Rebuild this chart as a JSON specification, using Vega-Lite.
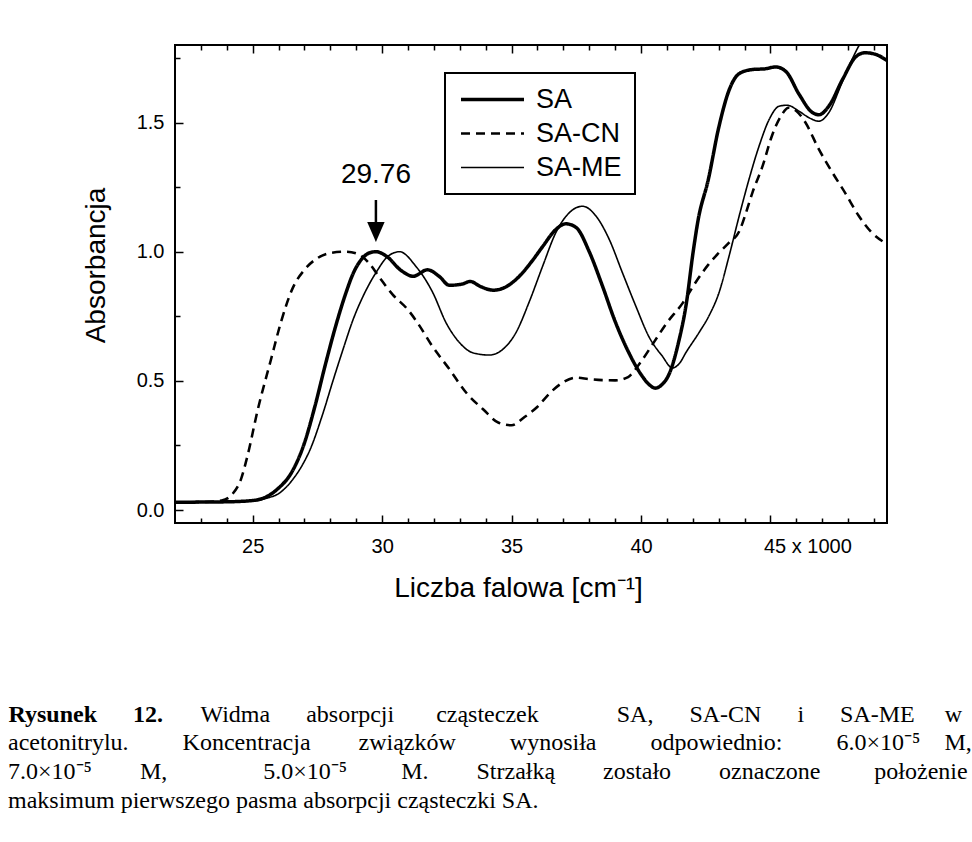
{
  "$schema": "https://vega.github.io/schema/vega-lite/v6.json",
  "width": 712,
  "height": 478,
  "autosize": {"type": "none"},
  "padding": {"left": 175, "top": 45, "right": 85, "bottom": 319},
  "background": "white",
  "config": {
    "view": {"stroke": "black", "strokeWidth": 2},
    "font": "Liberation Sans",
    "axis": {"grid": false, "domain": false, "labelColor": "black", "titleColor": "black", "labelFont": "Liberation Sans", "titleFont": "Liberation Sans", "titleFontWeight": "normal"},
    "legend": {"labelFont": "Liberation Sans", "labelColor": "black", "strokeColor": "black", "strokeWidth": 2, "fillColor": "white"}
  },
  "title": {
    "text": [
      "acetonitrylu.\u00a0\u00a0\u00a0\u00a0\u00a0\u00a0\u00a0\u00a0\u00a0Koncentracja\u00a0\u00a0\u00a0\u00a0\u00a0\u00a0\u00a0\u00a0związków\u00a0\u00a0\u00a0\u00a0\u00a0\u00a0\u00a0\u00a0\u00a0wynosiła\u00a0\u00a0\u00a0\u00a0\u00a0\u00a0\u00a0\u00a0\u00a0odpowiednio:\u00a0\u00a0\u00a0\u00a0\u00a0\u00a0\u00a0\u00a0\u00a06.0×10⁻⁵\u00a0\u00a0\u00a0\u00a0M,",
      "7.0×10⁻⁵\u00a0\u00a0\u00a0\u00a0\u00a0\u00a0\u00a0\u00a0M,\u00a0\u00a0\u00a0\u00a0\u00a0\u00a0\u00a0\u00a0\u00a0\u00a0\u00a0\u00a0\u00a0\u00a0\u00a0\u00a05.0×10⁻⁵\u00a0\u00a0\u00a0\u00a0\u00a0\u00a0\u00a0\u00a0\u00a0M.\u00a0\u00a0\u00a0\u00a0\u00a0\u00a0\u00a0\u00a0Strzałką\u00a0\u00a0\u00a0\u00a0\u00a0\u00a0\u00a0\u00a0zostało\u00a0\u00a0\u00a0\u00a0\u00a0\u00a0\u00a0\u00a0oznaczone\u00a0\u00a0\u00a0\u00a0\u00a0\u00a0\u00a0\u00a0\u00a0położenie",
      "maksimum pierwszego pasma absorpcji cząsteczki SA."
    ],
    "orient": "bottom",
    "anchor": "start",
    "frame": "group",
    "dx": -167,
    "offset": 5,
    "font": "Liberation Serif",
    "fontSize": 24,
    "fontWeight": "normal",
    "color": "black",
    "lineHeight": 29
  },
  "datasets": {
    "spectra": [
      {"series": "SA", "nu": 22.0, "A": 0.030}, {"series": "SA", "nu": 23.0, "A": 0.031}, {"series": "SA", "nu": 24.0, "A": 0.032}, {"series": "SA", "nu": 25.0, "A": 0.037}, {"series": "SA", "nu": 25.5, "A": 0.05}, {"series": "SA", "nu": 26.0, "A": 0.085}, {"series": "SA", "nu": 26.5, "A": 0.145}, {"series": "SA", "nu": 27.0, "A": 0.26}, {"series": "SA", "nu": 27.4, "A": 0.40}, {"series": "SA", "nu": 27.8, "A": 0.56}, {"series": "SA", "nu": 28.2, "A": 0.71}, {"series": "SA", "nu": 28.6, "A": 0.84}, {"series": "SA", "nu": 28.9, "A": 0.92}, {"series": "SA", "nu": 29.2, "A": 0.97}, {"series": "SA", "nu": 29.5, "A": 0.995}, {"series": "SA", "nu": 29.76, "A": 1.0}, {"series": "SA", "nu": 30.2, "A": 0.98}, {"series": "SA", "nu": 30.7, "A": 0.93}, {"series": "SA", "nu": 31.2, "A": 0.905}, {"series": "SA", "nu": 31.75, "A": 0.93}, {"series": "SA", "nu": 32.2, "A": 0.905}, {"series": "SA", "nu": 32.6, "A": 0.87}, {"series": "SA", "nu": 33.1, "A": 0.875}, {"series": "SA", "nu": 33.4, "A": 0.885}, {"series": "SA", "nu": 33.8, "A": 0.865}, {"series": "SA", "nu": 34.3, "A": 0.851}, {"series": "SA", "nu": 34.8, "A": 0.865}, {"series": "SA", "nu": 35.3, "A": 0.905}, {"series": "SA", "nu": 35.8, "A": 0.965}, {"series": "SA", "nu": 36.2, "A": 1.02}, {"series": "SA", "nu": 36.7, "A": 1.085}, {"series": "SA", "nu": 37.1, "A": 1.108}, {"series": "SA", "nu": 37.5, "A": 1.093}, {"series": "SA", "nu": 38.0, "A": 1.0}, {"series": "SA", "nu": 38.5, "A": 0.87}, {"series": "SA", "nu": 39.0, "A": 0.73}, {"series": "SA", "nu": 39.5, "A": 0.615}, {"series": "SA", "nu": 40.0, "A": 0.525}, {"series": "SA", "nu": 40.3, "A": 0.487}, {"series": "SA", "nu": 40.55, "A": 0.472}, {"series": "SA", "nu": 40.8, "A": 0.485}, {"series": "SA", "nu": 41.1, "A": 0.53}, {"series": "SA", "nu": 41.45, "A": 0.65}, {"series": "SA", "nu": 41.75, "A": 0.8}, {"series": "SA", "nu": 42.0, "A": 0.99}, {"series": "SA", "nu": 42.2, "A": 1.12}, {"series": "SA", "nu": 42.6, "A": 1.28}, {"series": "SA", "nu": 43.0, "A": 1.48}, {"series": "SA", "nu": 43.4, "A": 1.625}, {"series": "SA", "nu": 43.8, "A": 1.69}, {"series": "SA", "nu": 44.3, "A": 1.705}, {"series": "SA", "nu": 44.8, "A": 1.708}, {"series": "SA", "nu": 45.2, "A": 1.715}, {"series": "SA", "nu": 45.6, "A": 1.697}, {"series": "SA", "nu": 46.1, "A": 1.61}, {"series": "SA", "nu": 46.6, "A": 1.54}, {"series": "SA", "nu": 46.87, "A": 1.53}, {"series": "SA", "nu": 47.25, "A": 1.563}, {"series": "SA", "nu": 47.8, "A": 1.67}, {"series": "SA", "nu": 48.3, "A": 1.755}, {"series": "SA", "nu": 48.65, "A": 1.77}, {"series": "SA", "nu": 49.05, "A": 1.764}, {"series": "SA", "nu": 49.5, "A": 1.74},
      {"series": "SA-CN", "nu": 22.0, "A": 0.03}, {"series": "SA-CN", "nu": 23.0, "A": 0.031}, {"series": "SA-CN", "nu": 23.8, "A": 0.037}, {"series": "SA-CN", "nu": 24.2, "A": 0.06}, {"series": "SA-CN", "nu": 24.55, "A": 0.12}, {"series": "SA-CN", "nu": 24.8, "A": 0.21}, {"series": "SA-CN", "nu": 25.2, "A": 0.39}, {"series": "SA-CN", "nu": 25.7, "A": 0.58}, {"series": "SA-CN", "nu": 26.1, "A": 0.73}, {"series": "SA-CN", "nu": 26.55, "A": 0.86}, {"series": "SA-CN", "nu": 27.0, "A": 0.93}, {"series": "SA-CN", "nu": 27.5, "A": 0.975}, {"series": "SA-CN", "nu": 28.0, "A": 0.995}, {"series": "SA-CN", "nu": 28.6, "A": 1.0}, {"series": "SA-CN", "nu": 29.1, "A": 0.99}, {"series": "SA-CN", "nu": 29.5, "A": 0.955}, {"series": "SA-CN", "nu": 29.9, "A": 0.9}, {"series": "SA-CN", "nu": 30.4, "A": 0.835}, {"series": "SA-CN", "nu": 31.0, "A": 0.775}, {"series": "SA-CN", "nu": 31.4, "A": 0.72}, {"series": "SA-CN", "nu": 31.9, "A": 0.64}, {"series": "SA-CN", "nu": 32.6, "A": 0.545}, {"series": "SA-CN", "nu": 33.25, "A": 0.454}, {"series": "SA-CN", "nu": 33.9, "A": 0.39}, {"series": "SA-CN", "nu": 34.5, "A": 0.338}, {"series": "SA-CN", "nu": 35.0, "A": 0.328}, {"series": "SA-CN", "nu": 35.5, "A": 0.36}, {"series": "SA-CN", "nu": 36.0, "A": 0.4}, {"series": "SA-CN", "nu": 36.5, "A": 0.455}, {"series": "SA-CN", "nu": 37.0, "A": 0.495}, {"series": "SA-CN", "nu": 37.5, "A": 0.513}, {"series": "SA-CN", "nu": 38.0, "A": 0.507}, {"series": "SA-CN", "nu": 38.5, "A": 0.503}, {"series": "SA-CN", "nu": 39.0, "A": 0.502}, {"series": "SA-CN", "nu": 39.5, "A": 0.515}, {"series": "SA-CN", "nu": 40.0, "A": 0.575}, {"series": "SA-CN", "nu": 40.5, "A": 0.65}, {"series": "SA-CN", "nu": 41.0, "A": 0.725}, {"series": "SA-CN", "nu": 41.6, "A": 0.8}, {"series": "SA-CN", "nu": 42.1, "A": 0.88}, {"series": "SA-CN", "nu": 42.6, "A": 0.95}, {"series": "SA-CN", "nu": 43.0, "A": 0.995}, {"series": "SA-CN", "nu": 43.4, "A": 1.035}, {"series": "SA-CN", "nu": 43.8, "A": 1.08}, {"series": "SA-CN", "nu": 44.05, "A": 1.15}, {"series": "SA-CN", "nu": 44.3, "A": 1.228}, {"series": "SA-CN", "nu": 44.7, "A": 1.333}, {"series": "SA-CN", "nu": 45.05, "A": 1.447}, {"series": "SA-CN", "nu": 45.4, "A": 1.524}, {"series": "SA-CN", "nu": 45.7, "A": 1.557}, {"series": "SA-CN", "nu": 46.0, "A": 1.545}, {"series": "SA-CN", "nu": 46.35, "A": 1.5}, {"series": "SA-CN", "nu": 46.85, "A": 1.4}, {"series": "SA-CN", "nu": 47.4, "A": 1.305}, {"series": "SA-CN", "nu": 47.9, "A": 1.225}, {"series": "SA-CN", "nu": 48.4, "A": 1.14}, {"series": "SA-CN", "nu": 48.9, "A": 1.075}, {"series": "SA-CN", "nu": 49.5, "A": 1.03},
      {"series": "SA-ME", "nu": 22.0, "A": 0.03}, {"series": "SA-ME", "nu": 23.0, "A": 0.031}, {"series": "SA-ME", "nu": 24.0, "A": 0.032}, {"series": "SA-ME", "nu": 25.0, "A": 0.035}, {"series": "SA-ME", "nu": 25.5, "A": 0.045}, {"series": "SA-ME", "nu": 26.05, "A": 0.067}, {"series": "SA-ME", "nu": 26.56, "A": 0.12}, {"series": "SA-ME", "nu": 26.95, "A": 0.18}, {"series": "SA-ME", "nu": 27.2, "A": 0.23}, {"series": "SA-ME", "nu": 27.7, "A": 0.37}, {"series": "SA-ME", "nu": 28.1, "A": 0.5}, {"series": "SA-ME", "nu": 28.5, "A": 0.625}, {"series": "SA-ME", "nu": 28.87, "A": 0.735}, {"series": "SA-ME", "nu": 29.3, "A": 0.835}, {"series": "SA-ME", "nu": 29.8, "A": 0.925}, {"series": "SA-ME", "nu": 30.2, "A": 0.98}, {"series": "SA-ME", "nu": 30.67, "A": 1.0}, {"series": "SA-ME", "nu": 31.3, "A": 0.944}, {"series": "SA-ME", "nu": 31.96, "A": 0.841}, {"series": "SA-ME", "nu": 32.47, "A": 0.725}, {"series": "SA-ME", "nu": 32.99, "A": 0.648}, {"series": "SA-ME", "nu": 33.5, "A": 0.609}, {"series": "SA-ME", "nu": 34.14, "A": 0.6}, {"series": "SA-ME", "nu": 34.66, "A": 0.622}, {"series": "SA-ME", "nu": 35.17, "A": 0.687}, {"series": "SA-ME", "nu": 35.69, "A": 0.808}, {"series": "SA-ME", "nu": 36.2, "A": 0.944}, {"series": "SA-ME", "nu": 36.71, "A": 1.074}, {"series": "SA-ME", "nu": 37.23, "A": 1.151}, {"series": "SA-ME", "nu": 37.74, "A": 1.176}, {"series": "SA-ME", "nu": 38.26, "A": 1.138}, {"series": "SA-ME", "nu": 38.77, "A": 1.048}, {"series": "SA-ME", "nu": 39.28, "A": 0.919}, {"series": "SA-ME", "nu": 39.8, "A": 0.789}, {"series": "SA-ME", "nu": 40.31, "A": 0.67}, {"series": "SA-ME", "nu": 40.82, "A": 0.596}, {"series": "SA-ME", "nu": 41.21, "A": 0.55}, {"series": "SA-ME", "nu": 41.5, "A": 0.57}, {"series": "SA-ME", "nu": 41.73, "A": 0.609}, {"series": "SA-ME", "nu": 42.24, "A": 0.687}, {"series": "SA-ME", "nu": 42.62, "A": 0.751}, {"series": "SA-ME", "nu": 43.01, "A": 0.841}, {"series": "SA-ME", "nu": 43.4, "A": 0.983}, {"series": "SA-ME", "nu": 43.79, "A": 1.138}, {"series": "SA-ME", "nu": 44.17, "A": 1.28}, {"series": "SA-ME", "nu": 44.56, "A": 1.409}, {"series": "SA-ME", "nu": 44.95, "A": 1.512}, {"series": "SA-ME", "nu": 45.33, "A": 1.563}, {"series": "SA-ME", "nu": 45.64, "A": 1.567}, {"series": "SA-ME", "nu": 46.1, "A": 1.544}, {"series": "SA-ME", "nu": 46.48, "A": 1.519}, {"series": "SA-ME", "nu": 46.87, "A": 1.505}, {"series": "SA-ME", "nu": 47.25, "A": 1.538}, {"series": "SA-ME", "nu": 47.76, "A": 1.654}, {"series": "SA-ME", "nu": 48.15, "A": 1.744}, {"series": "SA-ME", "nu": 48.5, "A": 1.81}, {"series": "SA-ME", "nu": 48.9, "A": 1.84}, {"series": "SA-ME", "nu": 49.5, "A": 1.83}
    ],
    "annotation": [
      {"nu": 29.76, "label": "29.76", "A_text": 1.264, "A_shaft_top": 1.2, "A_shaft_bottom": 1.1, "A_head": 1.076}
    ]
  },
  "resolve": {"axis": {"x": "independent", "y": "independent"}},
  "layer": [
    {
      "data": {"name": "spectra"},
      "transform": [{"filter": "datum.series !== 'SA'"}],
      "mark": {"type": "line", "color": "black", "clip": true, "interpolate": "monotone"},
      "encoding": {
        "x": {
          "field": "nu", "type": "quantitative",
          "scale": {"domain": [22, 49.5], "nice": false, "zero": false},
          "axis": {
            "orient": "bottom", "values": [25, 30, 35, 40, 45], "ticks": true, "tickSize": -8, "tickColor": "black", "tickWidth": 1.5, "tickOpacity": 1, "zindex": 1,
            "labelFontSize": 20, "labelPadding": 21,
            "labelExpr": "datum.value == 45 ? '45 x 1000' : datum.label",
            "labelAlign": {"condition": {"test": "datum.value == 45", "value": "left"}, "value": "center"},
            "labelOffset": {"condition": {"test": "datum.value == 45", "value": -7}, "value": 0},
            "title": "Liczba falowa [cm⁻¹]", "titleFontSize": 28,
            "titleX": 343, "titleY": 73, "titleBaseline": "alphabetic", "titleAlign": "center"
          }
        },
        "y": {
          "field": "A", "type": "quantitative",
          "scale": {"domain": [-0.05, 1.8], "nice": false, "zero": false},
          "axis": {
            "orient": "left", "values": [0, 0.5, 1, 1.5], "ticks": true, "tickSize": -8, "tickColor": "black", "tickWidth": 1.5, "tickOpacity": 1, "zindex": 1, "format": ".1f",
            "labelFontSize": 20, "labelPadding": 19,
            "title": "Absorbancja", "titleFontSize": 28,
            "titleX": -71, "titleY": 220, "titleAngle": 270, "titleBaseline": "alphabetic", "titleAlign": "center"
          }
        },
        "strokeDash": {
          "field": "series", "type": "nominal",
          "scale": {"domain": ["SA", "SA-CN", "SA-ME"], "range": [[1, 0], [9, 6], [1, 0]]},
          "legend": {
            "orient": "none", "legendX": 270, "legendY": 28, "title": null,
            "labelFontSize": 27, "labelOffset": 51, "symbolType": "M-1,0L5,0", "symbolSize": 441,
            "symbolStrokeColor": "black", "symbolFillColor": "transparent", "rowPadding": 6, "padding": 13
          }
        },
        "strokeWidth": {
          "field": "series", "type": "nominal",
          "scale": {"domain": ["SA", "SA-CN", "SA-ME"], "range": [3.5, 1.6, 1.1]},
          "legend": {
            "orient": "none", "legendX": 270, "legendY": 28, "title": null,
            "labelFontSize": 27, "labelOffset": 51, "symbolType": "M-1,0L5,0", "symbolSize": 441,
            "symbolStrokeColor": "black", "symbolFillColor": "transparent", "rowPadding": 6, "padding": 13
          }
        }
      }
    },
    {
      "data": {"name": "spectra"},
      "transform": [{"filter": "datum.series === 'SA'"}],
      "mark": {"type": "line", "color": "black", "clip": true, "interpolate": "monotone"},
      "encoding": {
        "x": {
          "field": "nu", "type": "quantitative",
          "axis": {
            "orient": "top", "values": [23, 24, 26, 27, 28, 29, 31, 32, 33, 34, 36, 37, 38, 39, 41, 42, 43, 44, 46, 47, 48, 49],
            "labels": false, "title": null, "ticks": true, "tickSize": -5, "tickColor": "black", "tickWidth": 1.5, "tickOpacity": 1, "zindex": 1
          }
        },
        "y": {"field": "A", "type": "quantitative", "axis": null},
        "strokeDash": {
          "field": "series", "type": "nominal",
          "legend": {
            "orient": "none", "legendX": 270, "legendY": 28, "title": null,
            "labelFontSize": 27, "labelOffset": 51, "symbolType": "M-1,0L5,0", "symbolSize": 441,
            "symbolStrokeColor": "black", "symbolFillColor": "transparent", "rowPadding": 6, "padding": 13
          }
        },
        "strokeWidth": {
          "field": "series", "type": "nominal",
          "legend": {
            "orient": "none", "legendX": 270, "legendY": 28, "title": null,
            "labelFontSize": 27, "labelOffset": 51, "symbolType": "M-1,0L5,0", "symbolSize": 441,
            "symbolStrokeColor": "black", "symbolFillColor": "transparent", "rowPadding": 6, "padding": 13
          }
        }
      }
    },
    {
      "data": {"name": "annotation"},
      "mark": {"type": "rule", "color": "black", "strokeWidth": 2.5},
      "encoding": {
        "x": {
          "field": "nu", "type": "quantitative",
          "axis": {"orient": "top", "values": [25, 30, 35, 40, 45], "labels": false, "title": null, "ticks": true, "tickSize": -8, "tickColor": "black", "tickWidth": 1.5, "tickOpacity": 1, "zindex": 1}
        },
        "y": {"field": "A_shaft_top", "type": "quantitative", "axis": null},
        "y2": {"field": "A_shaft_bottom"}
      }
    },
    {
      "data": {"name": "annotation"},
      "mark": {"type": "point", "filled": true, "color": "black", "opacity": 1, "strokeWidth": 0, "shape": "M-0.87,-1L0.87,-1L0,1Z", "size": 400},
      "encoding": {
        "x": {
          "field": "nu", "type": "quantitative",
          "axis": {
            "orient": "bottom", "values": [23, 24, 26, 27, 28, 29, 31, 32, 33, 34, 36, 37, 38, 39, 41, 42, 43, 44, 46, 47, 48, 49],
            "labels": false, "title": null, "ticks": true, "tickSize": -5, "tickColor": "black", "tickWidth": 1.5, "tickOpacity": 1, "zindex": 1
          }
        },
        "y": {
          "field": "A_head", "type": "quantitative",
          "axis": {"orient": "left", "values": [0.25, 0.75, 1.25, 1.75], "labels": false, "title": null, "ticks": true, "tickSize": -5, "tickColor": "black", "tickWidth": 1.5, "tickOpacity": 1, "zindex": 1}
        }
      }
    },
    {
      "data": {"name": "annotation"},
      "mark": {"type": "text", "color": "black", "font": "Liberation Sans", "fontSize": 28, "baseline": "alphabetic", "align": "center"},
      "encoding": {
        "x": {
          "field": "nu", "type": "quantitative",
          "axis": {
            "orient": "bottom", "values": [25], "ticks": false, "labels": false, "domain": false,
            "title": "Rysunek\u00a0\u00a0\u00a0\u00a0\u00a0\u00a012.", "titleFont": "Liberation Serif", "titleFontSize": 24, "titleFontWeight": "bold", "titleColor": "black",
            "titleX": -167, "titleY": 198, "titleAlign": "left", "titleBaseline": "alphabetic"
          }
        },
        "y": {
          "field": "A_text", "type": "quantitative",
          "axis": {
            "orient": "left", "values": [0], "ticks": false, "labels": false, "domain": false,
            "title": "Widma\u00a0\u00a0\u00a0\u00a0\u00a0\u00a0absorpcji\u00a0\u00a0\u00a0\u00a0\u00a0\u00a0\u00a0cząsteczek\u00a0\u00a0\u00a0\u00a0\u00a0\u00a0\u00a0\u00a0\u00a0\u00a0\u00a0\u00a0\u00a0SA,\u00a0\u00a0\u00a0\u00a0\u00a0\u00a0SA-CN\u00a0\u00a0\u00a0\u00a0\u00a0\u00a0i\u00a0\u00a0\u00a0\u00a0\u00a0\u00a0SA-ME\u00a0\u00a0\u00a0\u00a0\u00a0w",
            "titleFont": "Liberation Serif", "titleFontSize": 24, "titleFontWeight": "normal", "titleColor": "black",
            "titleAngle": 0, "titleX": 25, "titleY": 676, "titleAlign": "left", "titleBaseline": "alphabetic"
          }
        },
        "text": {"field": "label"}
      }
    }
  ]
}
